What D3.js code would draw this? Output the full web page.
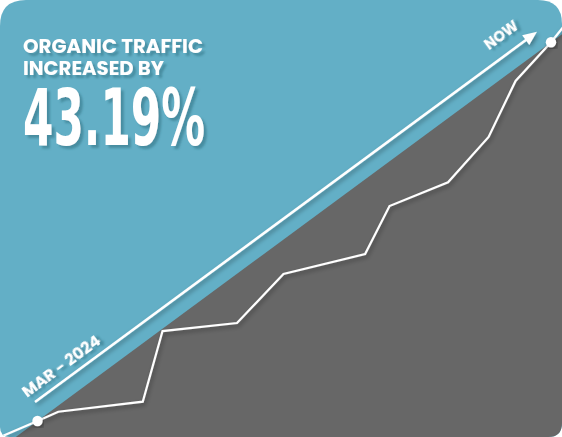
<!DOCTYPE html>
<html>
<head>
<meta charset="utf-8">
<script src="https://cdn.jsdelivr.net/npm/d3@7"></script>
<style>
  html, body { margin: 0; padding: 0; background: #ffffff; }
  svg { display: block; }
</style>
</head>
<body>
<svg id="chart"></svg>
<script>
// traffic index (start = 100) over time, 0 = Mar 2024, 100 = now
const weeks = [-6.8, 0, 4.05, 20.5, 24.35, 38.85, 47.9, 63.8, 68.55, 79.95, 87.85, 93.1, 100, 102.7];
const trafficIndex = [98.3, 100, 101.06, 102.2, 110.26, 111.18, 116.77, 119.05, 124.52, 127.22, 132.39, 138.78, 143.19, 145.16];
const headline = ["ORGANIC TRAFFIC", "INCREASED BY"];
const growthLabel = "43.19%";
const startLabel = "MAR - 2024";
const endLabel = "NOW";

const width = 562, height = 437;
const blue = "#63afc6", grey = "#676767";

const svg = d3.select("#chart").attr("width", width).attr("height", height);
const defs = svg.append("defs");

// card shape, corners are not all the same
const r = { tl: 26, tr: 24, br: 14, bl: 10 };
const cardPath = `M${r.tl},0 H${width - r.tr} Q${width},0 ${width},${r.tr} V${height - r.br} Q${width},${height} ${width - r.br},${height} H${r.bl} Q0,${height} 0,${height - r.bl} V${r.tl} Q0,0 ${r.tl},0 Z`;
defs.append("clipPath").attr("id", "card").append("path").attr("d", cardPath);

// shadows
const sh = defs.append("filter").attr("id", "txtShadow").attr("x", "-20%").attr("y", "-20%").attr("width", "140%").attr("height", "140%");
sh.append("feDropShadow").attr("dx", 3).attr("dy", 3).attr("stdDeviation", 1.2)
  .attr("flood-color", "#2f6f82").attr("flood-opacity", 0.55);
const lsh = defs.append("filter").attr("id", "lineShadow").attr("x", "-10%").attr("y", "-10%").attr("width", "120%").attr("height", "120%");
lsh.append("feDropShadow").attr("dx", 1.5).attr("dy", 2.5).attr("stdDeviation", 2)
  .attr("flood-color", "#000").attr("flood-opacity", 0.35);

const x = d3.scaleLinear().domain([0, 100]).range([37.5, 551]);
const y = d3.scaleLinear().domain([100, 143.19]).range([421, 42.3]);

const g = svg.append("g").attr("clip-path", "url(#card)");
g.append("rect").attr("width", width).attr("height", height).attr("fill", blue);

// grey triangle below the straight line through start and end
const x0 = x(0), y0 = y(100), x1 = x(100), y1 = y(143.19);
const slope = (y1 - y0) / (x1 - x0);
const lineAt = (px) => y0 + slope * (px - x0);
const xAtBottom = x0 + (height - y0) / slope;
g.append("path")
  .attr("d", `M${xAtBottom},${height} L${width},${lineAt(width)} L${width},${height} Z`)
  .attr("fill", grey);

// traffic line
const pts = weeks.map((w, i) => [w, trafficIndex[i]]);
g.append("path")
  .datum(pts)
  .attr("fill", "none")
  .attr("stroke", "#fff")
  .attr("stroke-width", 2.2)
  .attr("stroke-linejoin", "miter")
  .attr("filter", "url(#lineShadow)")
  .attr("d", d3.line().x(d => x(d[0])).y(d => y(d[1])));

// timeline arrow parallel to the trend
const ang = Math.atan(slope) * 180 / Math.PI;
const ax0 = x0 - 2.5, ay0 = y0 - 19;
const ax1 = 537, ay1 = ay0 + slope * (ax1 - ax0);
const tl = g.append("g").attr("filter", "url(#lineShadow)");
tl.append("line")
  .attr("x1", ax0).attr("y1", ay0).attr("x2", ax1 - 8).attr("y2", ay1 - slope * 8)
  .attr("stroke", "#fff").attr("stroke-width", 2.6);
tl.append("path")
  .attr("d", "M0,0 L-14,-6 L-14,6 Z")
  .attr("fill", "#fff")
  .attr("transform", `translate(${ax1},${ay1}) rotate(${ang})`);

// end dots
g.selectAll("circle.end")
  .data([[0, 100], [100, 143.19]])
  .join("circle")
  .attr("class", "end")
  .attr("cx", d => x(d[0])).attr("cy", d => y(d[1]))
  .attr("r", 5.2)
  .attr("fill", "#fff")
  .attr("filter", "url(#lineShadow)");

// labels along the timeline
g.append("text")
  .attr("transform", `translate(27,398) rotate(${ang})`)
  .attr("font-family", "Poppins, Inter, 'Open Sans', sans-serif")
  .attr("font-weight", 700)
  .attr("font-size", 16.5)
  .attr("fill", "#fff")
  .attr("textLength", 93)
  .attr("lengthAdjust", "spacingAndGlyphs")
  .attr("filter", "url(#txtShadow)")
  .text(startLabel);

g.append("text")
  .attr("transform", `translate(489,50.5) rotate(${ang})`)
  .attr("font-family", "Poppins, Inter, 'Open Sans', sans-serif")
  .attr("font-weight", 700)
  .attr("font-size", 16)
  .attr("fill", "#fff")
  .attr("textLength", 38)
  .attr("lengthAdjust", "spacingAndGlyphs")
  .attr("filter", "url(#txtShadow)")
  .text(endLabel);

// headline
g.selectAll("text.head")
  .data(headline)
  .join("text")
  .attr("class", "head")
  .attr("x", 23)
  .attr("y", (d, i) => 53 + i * 22)
  .attr("font-family", "Poppins, Inter, 'Open Sans', sans-serif")
  .attr("font-weight", 700)
  .attr("font-size", 19)
  .attr("fill", "#fff")
  .attr("textLength", (d, i) => i === 0 ? 180 : 141)
  .attr("lengthAdjust", "spacingAndGlyphs")
  .attr("filter", "url(#txtShadow)")
  .text(d => d);

g.append("text")
  .attr("x", 23)
  .attr("y", 145)
  .attr("font-family", "'Liberation Sans Narrow', 'DejaVu Sans Condensed', 'Roboto Condensed', sans-serif")
  .attr("font-weight", 700)
  .attr("font-size", 79)
  .attr("fill", "#fff")
  .attr("textLength", 182)
  .attr("lengthAdjust", "spacingAndGlyphs")
  .attr("filter", "url(#txtShadow)")
  .text(growthLabel);
</script>
</body>
</html>
